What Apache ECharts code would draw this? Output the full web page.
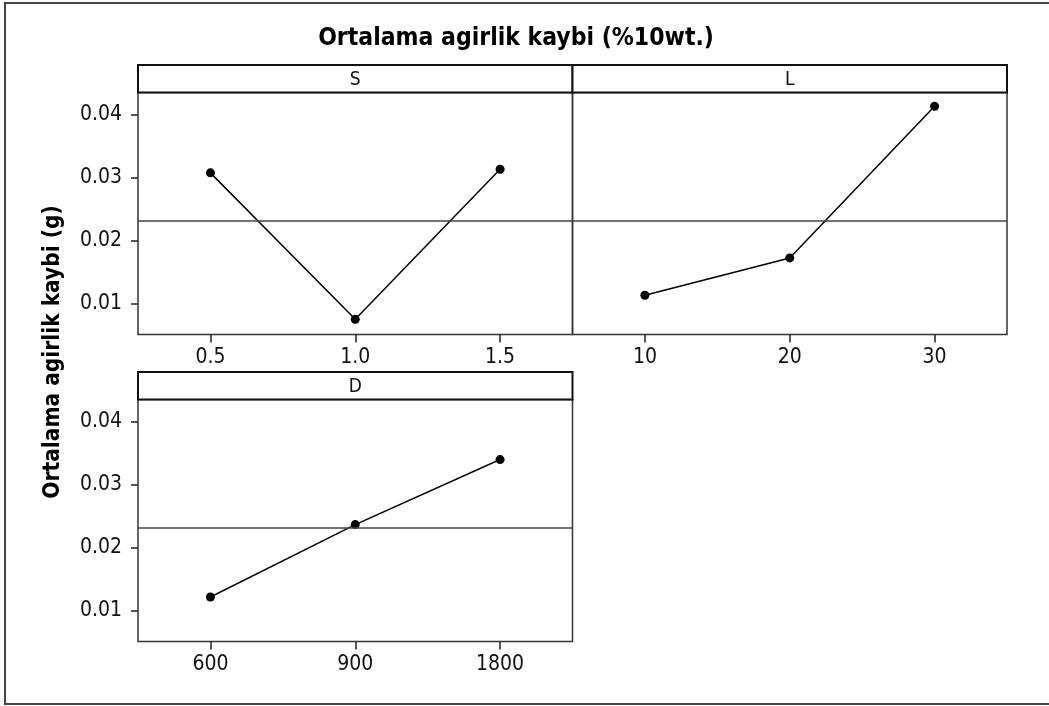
<!DOCTYPE html>
<html>
<head>
<meta charset="utf-8">
<script src="https://cdn.jsdelivr.net/npm/echarts@6/dist/echarts.min.js"></script>
<style>
html,body{margin:0;padding:0;background:#fff;}
#c{width:1049px;height:706px;}
</style>
</head>
<body>
<div id="c"></div>
<script>
// ---- data ----
var titleText = 'Ortalama agirlik kaybi (%10wt.)';
var yAxisTitle = 'Ortalama agirlik kaybi (g)';
var panelNames = ['S', 'L', 'D'];
var sLevels = ['0.5', '1.0', '1.5'];
var sMeans = [0.03075, 0.00751, 0.03133];
var lLevels = ['10', '20', '30'];
var lMeans = [0.01132, 0.01725, 0.04132];
var dLevels = ['600', '900', '1800'];
var dMeans = [0.01216, 0.02365, 0.03397];
var grandMean = [0.0232];
var yTicks = [0.01, 0.02, 0.03, 0.04];

// ---- layout ----
var FONT = "'DejaVu Sans Condensed', 'DejaVu Sans', sans-serif";
var yMin = 0.0051, yMax = 0.0435;
var grids = [
  {left: 138, top: 92.5, width: 434.5, height: 242},
  {left: 572.5, top: 92.5, width: 434.5, height: 242},
  {left: 138, top: 399.5, width: 434.5, height: 242}
];
var headerH = 27.5;
var levels = [sLevels, lLevels, dLevels];
var means = [sMeans, lMeans, dMeans];

var option = {
  backgroundColor: '#fff',
  animation: false,
  grid: grids.map(function (g) {
    return {left: g.left, top: g.top, width: g.width, height: g.height,
      show: true, borderColor: '#333', borderWidth: 1.5, backgroundColor: 'transparent'};
  }),
  xAxis: grids.map(function (g, i) {
    return {
      type: 'category', gridIndex: i, data: levels[i], boundaryGap: true,
      axisLine: {show: false},
      axisTick: {show: true, alignWithLabel: true, length: 8, lineStyle: {color: '#222', width: 1.5}},
      axisLabel: {color: '#111', fontSize: 21, fontFamily: FONT, margin: 13},
      splitLine: {show: false}
    };
  }),
  yAxis: grids.map(function (g, i) {
    var showLab = (i !== 1);
    return {
      type: 'value', gridIndex: i, min: yMin, max: yMax,
      axisLine: {show: false},
      axisTick: {show: showLab, length: 7, customValues: yTicks, lineStyle: {color: '#222', width: 1.5}},
      axisLabel: {show: showLab, customValues: yTicks, color: '#111', fontSize: 21, fontFamily: FONT, margin: 16,
        formatter: function (v) { return String(Math.round(v * 100) / 100); }},
      splitLine: {show: false}
    };
  }),
  series: grids.map(function (g, i) {
    return {
      type: 'line', xAxisIndex: i, yAxisIndex: i, data: means[i],
      symbol: 'circle', symbolSize: 9,
      itemStyle: {color: '#000'},
      lineStyle: {color: '#000', width: 1.5},
      markLine: {
        silent: true, symbol: ['none', 'none'], precision: 6,
        label: {show: false},
        lineStyle: {color: '#444', width: 1.5, type: 'solid'},
        data: [{yAxis: grandMean[0]}]
      }
    };
  }),
  graphic: []
};

// outer frame
option.graphic.push({type: 'rect', shape: {x: 5, y: 3, width: 1046, height: 701},
  style: {fill: 'none', stroke: '#444', lineWidth: 2}, z: 10});
// title
option.graphic.push({type: 'text', x: 516, y: 39, style: {text: titleText, font: 'bold 24.5px ' + FONT,
  fill: '#000', align: 'center', verticalAlign: 'middle'}, z: 10});
// y axis title
option.graphic.push({type: 'text', x: 53, y: 352, rotation: Math.PI / 2,
  style: {text: yAxisTitle, font: 'bold 22.5px ' + FONT, fill: '#000', align: 'center', verticalAlign: 'middle'}, z: 10});
// panel headers
grids.forEach(function (g, i) {
  option.graphic.push({type: 'rect', shape: {x: g.left, y: g.top - headerH, width: g.width, height: headerH},
    style: {fill: '#fff', stroke: '#111', lineWidth: 2}, z: 10});
  option.graphic.push({type: 'text', x: g.left + g.width / 2, y: g.top - headerH / 2 + 1,
    style: {text: panelNames[i], font: '19px ' + FONT, fill: '#111', align: 'center', verticalAlign: 'middle'}, z: 11});
});

var chart = echarts.init(document.getElementById('c'), null, {renderer: 'canvas'});
chart.setOption(option);
</script>
</body>
</html>
